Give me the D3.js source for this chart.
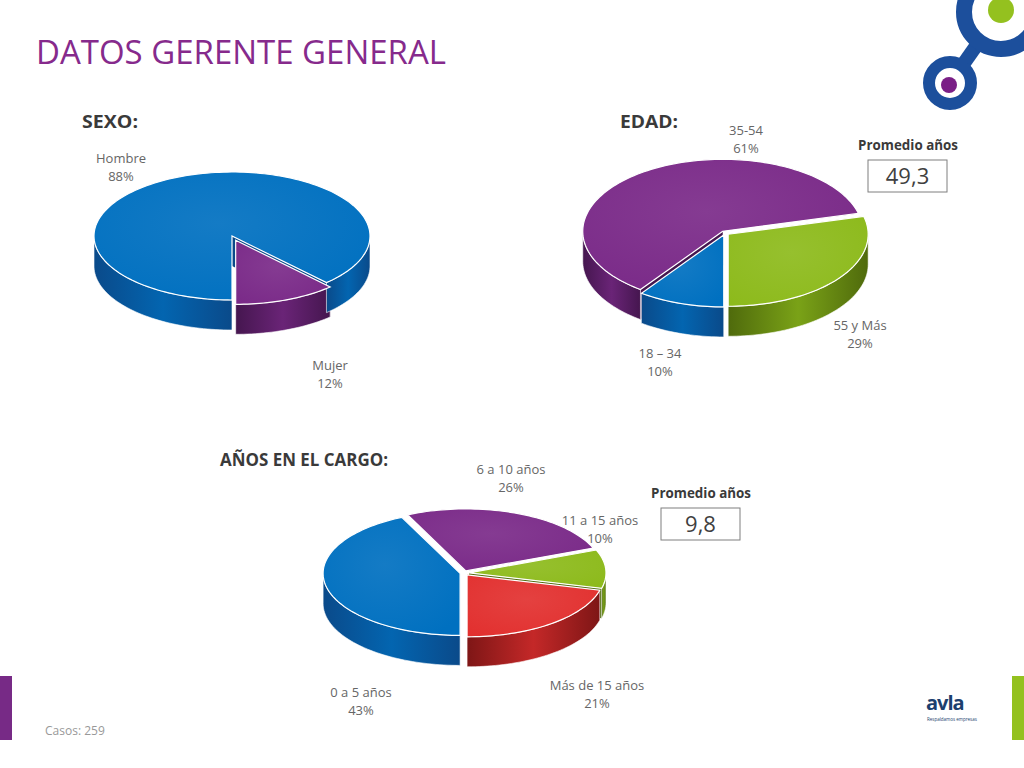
<!DOCTYPE html><html><head><meta charset="utf-8">
<script src="https://cdn.jsdelivr.net/npm/d3@7"></script>
<style>body{margin:0;background:#fff}svg{display:block}</style></head><body>
<script>
const sexoCats=["Mujer","Hombre"], sexoVals=[12,88];
const edadCats=["55 y Más","18 – 34","35-54"], edadVals=[29,10,61];
const cargoCats=["6 a 10 años","11 a 15 años","Más de 15 años","0 a 5 años"], cargoVals=[26,10,21,43];
const promedios=["49,3","9,8"];
const FONT="'Open Sans',sans-serif";
const col={blue:["#0070c0","#0a4a8a"],purple:["#7a2a88","#45164f"],green:["#8dba1c","#4f6a0c"],red:["#e2302f","#7e1616"]};
const svg=d3.select("body").append("svg").attr("width",1024).attr("height",768);
const defs=svg.append("defs");
Object.entries(col).forEach(([k,c])=>{
 const g=defs.append("linearGradient").attr("id","s"+k);
 g.append("stop").attr("offset","0%").attr("stop-color",c[1]);
 g.append("stop").attr("offset","50%").attr("stop-color",d3.interpolateRgb(c[0],c[1])(0.3));
 g.append("stop").attr("offset","100%").attr("stop-color",c[1]);
 const r=defs.append("radialGradient").attr("id","t"+k).attr("cx","45%").attr("cy","40%").attr("r","70%");
 r.append("stop").attr("offset","0%").attr("stop-color",d3.interpolateRgb(c[0],"#fff")(0.08));
 r.append("stop").attr("offset","100%").attr("stop-color",c[0]);
});
function pie3d(o){
 const arcs=d3.pie().sort(null).startAngle(o.start*Math.PI/180).endAngle(o.start*Math.PI/180+2*Math.PI)(o.vals);
 const g=svg.append("g");
 const P=(cx,cy,a,dy=0)=>[cx+o.rx*Math.sin(a),cy-o.ry*Math.cos(a)+dy];
 const items=arcs.map((a,i)=>{const m=(a.startAngle+a.endAngle)/2,e=o.explode[i]||0;
   return {a,i,cx:o.cx+e*Math.sin(m),cy:o.cy-e*Math.cos(m)*o.ry/o.rx,c:o.colors[i]};});
 function arcPath(cx,cy,a0,a1,dy){const n=Math.max(2,Math.ceil((a1-a0)/0.03));
   return d3.range(n+1).map(k=>P(cx,cy,a0+(a1-a0)*k/n,dy));}
 items.forEach(it=>{
  [it.a.startAngle,it.a.endAngle].forEach(an=>{const p=P(it.cx,it.cy,an);
   if(Math.cos(an)<0.2){g.append("path").attr("d",d3.line()([[it.cx,it.cy],p,[p[0],p[1]+o.d],[it.cx,it.cy+o.d]])+"Z")
    .attr("fill",col[it.c][1]);}});
 });
 items.forEach(it=>{
  const segs=[];
  for(let base=-2;base<=2;base++){const lo=Math.PI/2+base*2*Math.PI,hi=lo+Math.PI;
    const s=Math.max(it.a.startAngle,lo),e=Math.min(it.a.endAngle,hi);if(e>s)segs.push([s,e]);}
  segs.forEach(([s,e])=>{const top=arcPath(it.cx,it.cy,s,e,0),bot=arcPath(it.cx,it.cy,s,e,o.d).reverse();
   g.append("path").attr("d",d3.line()(top.concat(bot))+"Z").attr("fill","url(#s"+it.c+")").attr("stroke","#fff").attr("stroke-width",0.6);});
 });
 items.forEach(it=>{const pts=[[it.cx,it.cy]].concat(arcPath(it.cx,it.cy,it.a.startAngle,it.a.endAngle,0));
  g.append("path").attr("d",d3.line()(pts)+"Z").attr("fill","url(#t"+it.c+")").attr("stroke","#fff").attr("stroke-width",1.2);});
}
pie3d({cx:232,cy:236,rx:138,ry:64,d:30,vals:sexoVals,start:136.8,colors:["purple","blue"],explode:[10,0]});
pie3d({cx:725,cy:233,rx:140,ry:72,d:30,vals:edadVals,start:75.6,colors:["green","blue","purple"],explode:[4,4,4]});
pie3d({cx:464,cy:573,rx:137,ry:62,d:30,vals:cargoVals,start:-25.2,colors:["purple","green","red","blue"],explode:[5,5,5,4]});
const txt=(x,y,s,size,fill,extra={})=>{const t=svg.append("text").attr("x",x).attr("y",y).text(s).attr("font-family",FONT).attr("font-size",size).attr("fill",fill);Object.entries(extra).forEach(([k,v])=>t.attr(k,v));return t;};
txt(36,64,"DATOS GERENTE GENERAL",33,"#862a8c",{"textLength":410,"lengthAdjust":"spacingAndGlyphs"});
txt(82,128,"SEXO:",18,"#3a3a3a",{"font-weight":"bold","textLength":56,"lengthAdjust":"spacingAndGlyphs"});
txt(620,128,"EDAD:",18,"#3a3a3a",{"font-weight":"bold","textLength":58,"lengthAdjust":"spacingAndGlyphs"});
txt(220,466,"AÑOS EN EL CARGO:",18,"#3a3a3a",{"font-weight":"bold","textLength":168,"lengthAdjust":"spacingAndGlyphs"});
const lab=[[121,163,sexoCats[1],sexoVals[1]],[330,370,sexoCats[0],sexoVals[0]],
 [746,135,edadCats[2],edadVals[2]],[860,330,edadCats[0],edadVals[0]],[660,358,edadCats[1],edadVals[1]],
 [511,474,cargoCats[0],cargoVals[0]],[600,525,cargoCats[1],cargoVals[1]],[597,690,cargoCats[2],cargoVals[2]],[361,697,cargoCats[3],cargoVals[3]]];
lab.forEach(([x,y,c,v])=>{txt(x,y,c,13,"#666",{"text-anchor":"middle"});txt(x,y+18,v+"%",13,"#666",{"text-anchor":"middle"});});
[[908,150,868,160,promedios[0]],[701,498,661,508,promedios[1]]].forEach(([tx,ty,bx,by,v])=>{
 txt(tx,ty,"Promedio años",15,"#3a3a3a",{"text-anchor":"middle","font-weight":"bold","textLength":100,"lengthAdjust":"spacingAndGlyphs"});
 svg.append("rect").attr("x",bx).attr("y",by).attr("width",79).attr("height",32).attr("fill","#fff").attr("stroke","#7f7f7f");
 txt(bx+39.5,by+24,v,22,"#404040",{"text-anchor":"middle"});});
txt(45,735,"Casos: 259",12,"#999");
svg.append("rect").attr("x",0).attr("y",676).attr("width",12).attr("height",64).attr("fill","#772a86");
svg.append("rect").attr("x",1012).attr("y",676).attr("width",12).attr("height",64).attr("fill","#94c11f");
svg.append("line").attr("x1",1000).attr("y1",12).attr("x2",950).attr("y2",83).attr("stroke","#1c4f9c").attr("stroke-width",14);
svg.append("circle").attr("cx",1001).attr("cy",12).attr("r",37).attr("fill","#fff").attr("stroke","#1c4f9c").attr("stroke-width",16);
svg.append("circle").attr("cx",1001).attr("cy",10).attr("r",13).attr("fill","#94c11f");
svg.append("circle").attr("cx",950).attr("cy",83).attr("r",21).attr("fill","#fff").attr("stroke","#1c4f9c").attr("stroke-width",12);
svg.append("circle").attr("cx",949).attr("cy",85).attr("r",8).attr("fill","#7a1f86");
txt(926,710,"avla",20,"#1c3f6e",{"font-weight":"bold","letter-spacing":"-1"});
txt(927,721,"Respaldamos empresas",4.5,"#1c3f6e");
</script></body></html>
